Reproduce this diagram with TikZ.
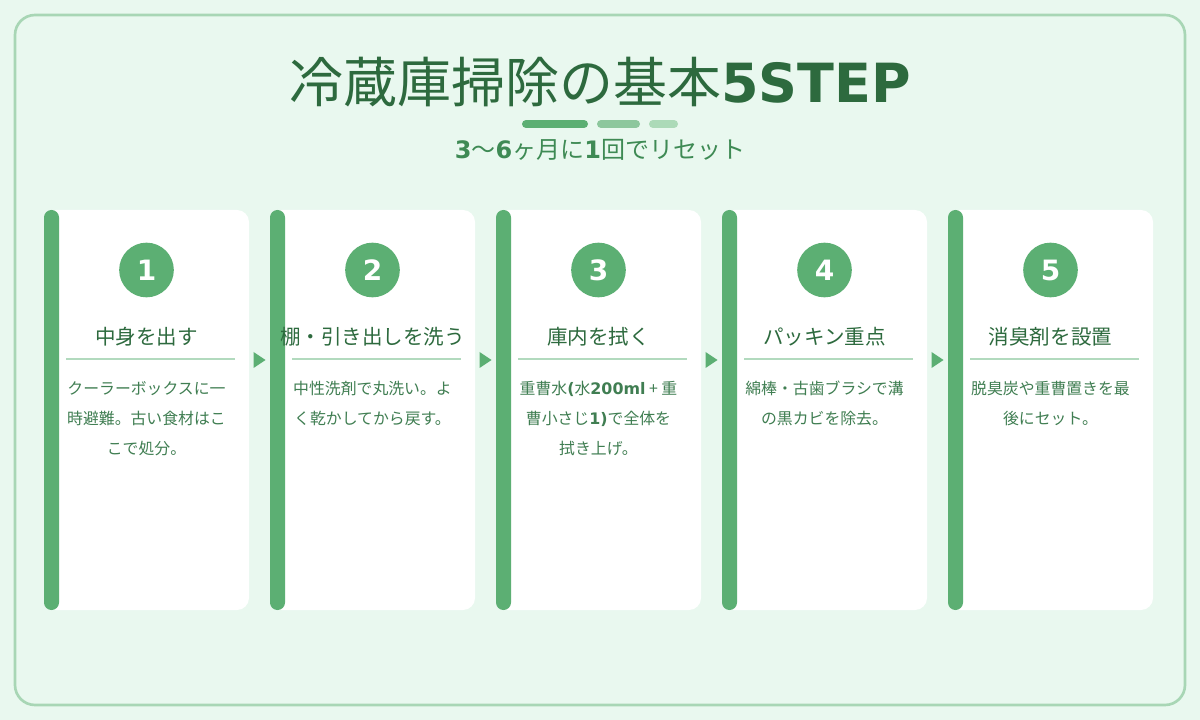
\documentclass[tikz,border=0pt]{standalone}
\usepackage{fontspec}
\setmainfont{DejaVu Sans}
\newfontfamily\jp{Noto Sans CJK JP}
\usetikzlibrary{calc,positioning}
\definecolor{bgmint}{RGB}{233,248,239}
\definecolor{framegreen}{RGB}{168,214,181}
\definecolor{stepgreen}{RGB}{92,175,115}
\definecolor{midgreen}{RGB}{141,199,157}
\definecolor{palegreen}{RGB}{172,218,184}
\definecolor{titlegreen}{RGB}{45,106,62}
\definecolor{subgreen}{RGB}{62,138,84}
\definecolor{descgreen}{RGB}{64,126,82}
\definecolor{sepgreen}{RGB}{178,218,190}
\newcommand{\latb}[1]{{\normalfont\bfseries #1}}

\begin{document}
\begin{tikzpicture}[x=0.75pt, y=-0.75pt,
    card/.style={rectangle, fill=white, rounded corners=9pt,
                 minimum width=153.75pt, minimum height=300pt},
    stripe/.style={rectangle, fill=stepgreen, rounded corners=5.6pt,
                   minimum width=11.25pt, minimum height=300pt, anchor=west},
    num/.style={circle, fill=stepgreen, minimum size=41pt, inner sep=0pt,
                text=white, font=\fontsize{21}{21}\selectfont\bfseries},
    steptitle/.style={font=\fontsize{15.4}{15.4}\selectfont\jp, text=titlegreen},
    desc/.style={font=\fontsize{11.9}{22.5}\selectfont\jp, text=descgreen,
                 align=center, anchor=north, inner sep=0pt},
    sep/.style={draw=sepgreen, line width=1.5pt},
    bar/.style={line width=6pt, line cap=round},
  ]
  % Hintergrund
  \fill[bgmint] (0,0) rectangle (1200,720);
  \useasboundingbox (0,0) rectangle (1200,720);
  \draw[framegreen, line width=2pt, rounded corners=15pt, fill=bgmint]
    (15,15) rectangle (1185,705);

  % Titel
  \node[text=titlegreen, font=\fontsize{40.5}{40.5}\selectfont] (title) at (600,82)
    {{\jp 冷蔵庫掃除の基本}{\bfseries 5STEP}};
  \draw[bar, stepgreen] (526,124) -- (584,124);
  \draw[bar, midgreen] (601,124) -- (636,124);
  \draw[bar, palegreen] (653,124) -- (674,124);
  \node[text=subgreen, font=\fontsize{18}{18}\selectfont] (sub) at (600,150)
    {\latb{3}{\jp 〜}\latb{6}{\jp ヶ月に}\latb{1}{\jp 回でリセット}};

  % Karten
  \node[card] (card1) at (146.5,410) {};
  \node[card] (card2) at (372.5,410) {};
  \node[card] (card3) at (598.5,410) {};
  \node[card] (card4) at (824.5,410) {};
  \node[card] (card5) at (1050.5,410) {};
  \node[stripe] (bar1) at (card1.west) {};
  \node[stripe] (bar2) at (card2.west) {};
  \node[stripe] (bar3) at (card3.west) {};
  \node[stripe] (bar4) at (card4.west) {};
  \node[stripe] (bar5) at (card5.west) {};

  % Schritt 1
  \node[num] (num1) at (146.5,270) {1};
  \node[steptitle] (t1) at (146.5,337) {中身を出す};
  \draw[sep] (66,359) -- (235,359);
  \node[desc] (d1) at (146.5,381)
    {クーラーボックスに一\\時避難。古い食材はこ\\こで処分。};

  % Schritt 2
  \node[num] (num2) at (372.5,270) {2};
  \node[steptitle] (t2) at (372.5,337) {棚・引き出しを洗う};
  \draw[sep] (292,359) -- (461,359);
  \node[desc] (d2) at (372.5,381)
    {中性洗剤で丸洗い。よ\\く乾かしてから戻す。};

  % Schritt 3
  \node[num] (num3) at (598.5,270) {3};
  \node[steptitle] (t3) at (598.5,337) {庫内を拭く};
  \draw[sep] (518,359) -- (687,359);
  \node[desc] (d3) at (598.5,381)
    {重曹水\latb{(}水\latb{200ml} + 重\\曹小さじ\latb{1)}で全体を\\拭き上げ。};

  % Schritt 4
  \node[num] (num4) at (824.5,270) {4};
  \node[steptitle] (t4) at (824.5,337) {パッキン重点};
  \draw[sep] (744,359) -- (913,359);
  \node[desc] (d4) at (824.5,381)
    {綿棒・古歯ブラシで溝\\の黒カビを除去。};

  % Schritt 5
  \node[num] (num5) at (1050.5,270) {5};
  \node[steptitle] (t5) at (1050.5,337) {消臭剤を設置};
  \draw[sep] (970,359) -- (1139,359);
  \node[desc] (d5) at (1050.5,381)
    {脱臭炭や重曹置きを最\\後にセット。};

  % Pfeile
  \coordinate (a12) at ($(card1.east)!0.5!(card2.west) + (0,-50)$);
  \coordinate (a23) at ($(card2.east)!0.5!(card3.west) + (0,-50)$);
  \coordinate (a34) at ($(card3.east)!0.5!(card4.west) + (0,-50)$);
  \coordinate (a45) at ($(card4.east)!0.5!(card5.west) + (0,-50)$);
  \fill[stepgreen] ($(a12)+(-6,-8)$) -- ($(a12)+(6,0)$) -- ($(a12)+(-6,8)$) -- cycle;
  \fill[stepgreen] ($(a23)+(-6,-8)$) -- ($(a23)+(6,0)$) -- ($(a23)+(-6,8)$) -- cycle;
  \fill[stepgreen] ($(a34)+(-6,-8)$) -- ($(a34)+(6,0)$) -- ($(a34)+(-6,8)$) -- cycle;
  \fill[stepgreen] ($(a45)+(-6,-8)$) -- ($(a45)+(6,0)$) -- ($(a45)+(-6,8)$) -- cycle;
\end{tikzpicture}
\end{document}
